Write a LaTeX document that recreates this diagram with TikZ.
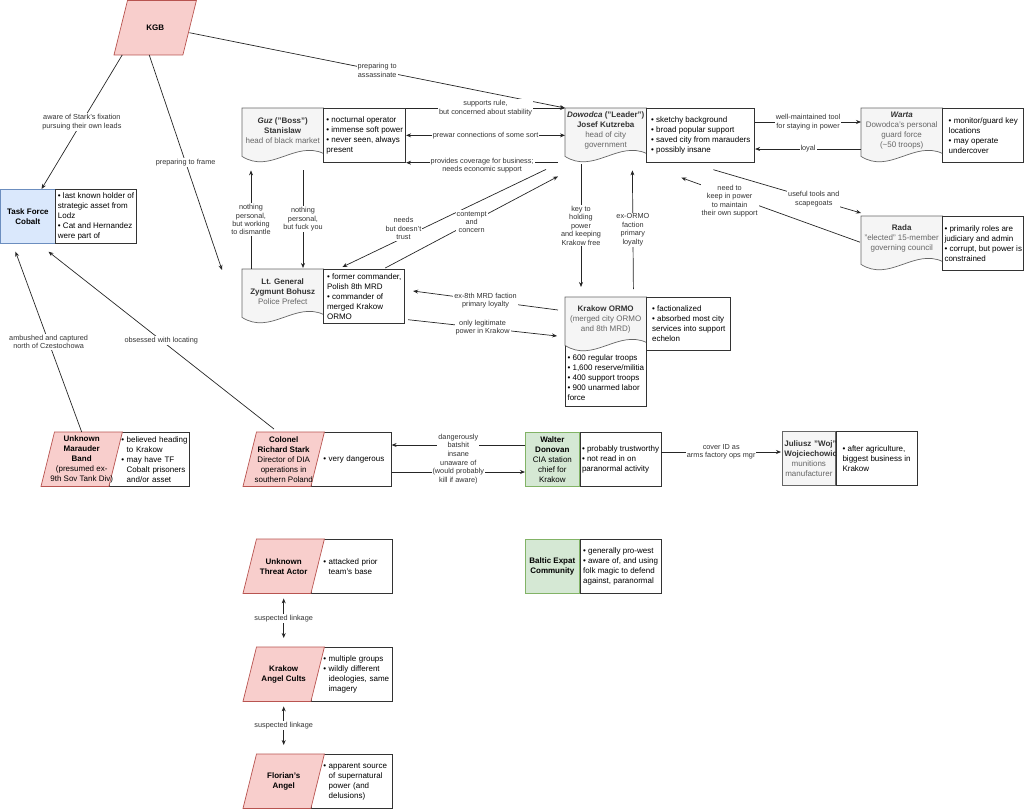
\documentclass[tikz,border=0pt]{standalone}
\usepackage{fontspec}
\setmainfont{Liberation Sans}
\usetikzlibrary{arrows.meta,calc,backgrounds}
\definecolor{redfill}{RGB}{248,206,204}
\definecolor{redline}{RGB}{184,84,80}
\definecolor{bluefill}{RGB}{218,232,252}
\definecolor{blueline}{RGB}{108,142,191}
\definecolor{greenfill}{RGB}{213,232,212}
\definecolor{greenline}{RGB}{130,179,102}
\definecolor{greyfill}{RGB}{245,245,245}
\definecolor{greyline}{RGB}{102,102,102}
\definecolor{darktext}{RGB}{51,51,51}
\newcommand\grey[1]{\textcolor{greyline}{#1}}
\newcommand\bind{\hphantom{• }}
\newcommand\padleft{\leftskip=11pt\relax}
\newcommand\docshape[1]{%
  \filldraw[docfill] (#1.north west) -- (#1.north east) -- ($(#1.south east)+(0,1)$)
    .. controls ($(#1.south west)!0.65!(#1.south east)+(0,-12)$) and ($(#1.south west)!0.35!(#1.south east)+(0,22)$) .. ($(#1.south west)+(0,4)$) -- cycle;}
\newcommand\parashape[1]{%
  \filldraw[parafill] ($(#1.north west)+(13.5,0)$) -- (#1.north east) -- ($(#1.south east)+(-13.5,0)$) -- (#1.south west) -- cycle;}
\tikzset{
  txt/.style={font=\fontsize{8}{10}\selectfont},
  lbl/.style={font=\fontsize{7.3}{8.4}\selectfont, text=darktext, fill=white, inner sep=1pt, align=center},
  link/.style={draw=black!85, line width=0.7pt, -{Stealth[length=5pt,width=4pt]}},
  twoway/.style={link, {Stealth[length=5pt,width=4pt]}-{Stealth[length=5pt,width=4pt]}},
  docnode/.style={txt, text=darktext, anchor=north west, minimum width=81pt, minimum height=44pt, inner sep=1pt, align=center},
  docfill/.style={fill=greyfill, draw=greyline, line width=0.7pt},
  parafill/.style={fill=redfill, draw=redline, line width=0.7pt},
  boxline/.style={draw=black!80, fill=white, line width=0.7pt},
  infobox/.style={txt, boxline, anchor=north west, align=left, inner sep=1pt, minimum width=#1, minimum height=54pt},
  parainfo/.style 2 args={infobox=#1, text width=#2, draw=none, fill=none},
  plainbox/.style={txt, anchor=north west, line width=0.7pt, inner sep=1pt, align=center, minimum width=54pt, minimum height=54pt},
  parabox/.style={txt, anchor=north west, inner sep=1pt, align=center, minimum width=81pt, minimum height=54pt},
}

\begin{document}
\begin{tikzpicture}[x=1pt, y=-1pt]
    \useasboundingbox (0,0) rectangle (1024,809);

    % KGB and Task Force Cobalt
    \node[parabox, minimum width=82pt] (kgb) at (114,0.5) {\textbf{KGB}};
    \node[plainbox, fill=bluefill, draw=blueline] (tfc) at (0.5,189) {\textbf{Task Force}\\\textbf{Cobalt}};
    \node[infobox=81pt] (tfcinfo) at (tfc.north east) {• last known holder of\\strategic asset from\\Lodz\\• Cat and Hernandez\\were part of};

    % City leadership
    \node[docnode] (guz) at (242,108) {\textbf{\textit{Guz} ("Boss")}\\\textbf{Stanislaw}\\\grey{head of black market}};
    \node[infobox=82pt] (guzinfo) at (guz.north east) {• nocturnal operator\\• immense soft power\\• never seen, always\\present};
    \node[docnode] (dowodca) at (565,108) {\textbf{\textit{Dowodca} ("Leader")}\\\textbf{Josef Kutzreba}\\\grey{head of city}\\\grey{government}};
    \node[infobox=108pt] (dwinfo) at (dowodca.north east) {• sketchy background\\• broad popular support\\• saved city from marauders\\• possibly insane};
    \node[docnode] (warta) at (861,108) {\textbf{\textit{Warta}}\\\grey{Dowodca's personal}\\\grey{guard force}\\\grey{(\textasciitilde50 troops)}};
    \node[infobox=81pt] (wartainfo) at (warta.north east) {• monitor/guard key\\locations\\• may operate\\undercover};
    \node[docnode] (rada) at (861,216) {\textbf{Rada}\\\grey{"elected" 15-member}\\\grey{governing council}};
    \node[infobox=81pt] (radainfo) at (rada.north east) {• primarily roles are\\judiciary and admin\\• corrupt, but power is\\constrained};
    \node[docnode] (bohusz) at (242,269) {\textbf{Lt. General}\\\textbf{Zygmunt Bohusz}\\\grey{Police Prefect}};
    \node[infobox=81pt] (bhinfo) at (bohusz.north east) {• former commander,\\Polish 8th MRD\\• commander of\\merged Krakow\\ORMO};
    \node[docnode] (ormo) at (565,297) {\textbf{Krakow ORMO}\\\grey{(merged city ORMO}\\\grey{and 8th MRD)}};
    \node[infobox=84pt, minimum height=53pt] (ormoinfo) at (ormo.north east) {• factionalized\\• absorbed most city\\services into support\\echelon};
    \node[infobox=81pt, draw=none, fill=none, minimum height=56pt] (ormolist) at ($(ormo.south west)+(0,8)$) {• 600 regular troops\\• 1,600 reserve/militia\\• 400 support troops\\• 900 unarmed labor\\force};

    % Middle row
    \node[parabox] (marauder) at (41,432) {\textbf{Unknown}\\\textbf{Marauder}\\\textbf{Band}\\(presumed ex-\\9th Sov Tank Div)};
    \node[parainfo={80pt}{78pt}] (marinfo) at ($(marauder.north east)+(-13.5,0)$) {\padleft • believed heading\\\bind to Krakow\\• may have TF\\\bind Cobalt prisoners\\\bind and/or asset\par};
    \node[parabox] (stark) at (243,432) {\textbf{Colonel}\\\textbf{Richard Stark}\\Director of DIA\\operations in\\southern Poland};
    \node[parainfo={80pt}{78pt}] (stinfo) at ($(stark.north east)+(-13.5,0)$) {\padleft • very dangerous\par};
    \node[plainbox, fill=greenfill, draw=greenline] (donovan) at (525,432) {\textbf{Walter}\\\textbf{Donovan}\\CIA station\\chief for\\Krakow};
    \node[infobox=81pt] (doninfo) at (donovan.north east) {• probably trustworthy\\• not read in on\\paranormal activity};
    \node[plainbox, fill=greyfill, draw=greyline, text=darktext, text width=49pt, minimum width=53pt] (juliusz) at (782,431) {\mbox{\textbf{Juliusz "Woj"}}\\\mbox{\textbf{Wojciechowicz}}\\\grey{munitions}\\\grey{manufacturer}};
    \node[infobox=81pt] (julinfo) at (juliusz.north east) {• after agriculture,\\biggest business in\\Krakow};

    % Paranormal column
    \node[parabox] (threat) at (243,539) {\textbf{Unknown}\\\textbf{Threat Actor}};
    \node[parainfo={81pt}{79pt}] (thinfo) at ($(threat.north east)+(-13.5,0)$) {\padleft • attacked prior\\\bind team's base\par};
    \node[parabox] (cults) at (243,647) {\textbf{Krakow}\\\textbf{Angel Cults}};
    \node[parainfo={81pt}{79pt}] (cuinfo) at ($(cults.north east)+(-13.5,0)$) {\padleft • multiple groups\\• wildly different\\\bind ideologies, same\\\bind imagery\par};
    \node[parabox] (florian) at (243,754) {\textbf{Florian's}\\\textbf{Angel}};
    \node[parainfo={81pt}{79pt}] (flinfo) at ($(florian.north east)+(-13.5,0)$) {\padleft • apparent source\\\bind of supernatural\\\bind power (and\\\bind delusions)\par};
    \node[plainbox, fill=greenfill, draw=greenline] (baltic) at (525,539) {\textbf{Baltic Expat}\\\textbf{Community}};
    \node[infobox=81pt] (balinfo) at (baltic.north east) {• generally pro-west\\• aware of, and using\\folk magic to defend\\against, paranormal};

    % Shapes behind the text
    \begin{scope}[on background layer]
        \filldraw[boxline] (ormo.north west) rectangle (ormolist.south east);
        \foreach \n in {guz,dowodca,warta,rada,bohusz,ormo} {\docshape{\n}}
        \foreach \p/\i in {marauder/marinfo,stark/stinfo,threat/thinfo,cults/cuinfo,florian/flinfo} {
            \filldraw[boxline] (\i.north west) rectangle (\i.south east);
            \parashape{\p}
        }
        \parashape{kgb}
    \end{scope}

    % KGB links
    \coordinate (framept) at ($(bohusz.north west)+(-20,1)$);
    \draw[link] ($(kgb.east)+(-7,5)$) -- node[lbl] {preparing to\\assassinate} (dowodca.north west);
    \draw[link] ($(kgb.south west)!0.2!(kgb.south)$) -- node[lbl] {aware of Stark's fixation\\pursuing their own leads} ($(tfc.north)!0.5!(tfc.north east)$);
    \draw[link] ($(kgb.south)+(-6,0)$) -- node[lbl] {preparing to frame} (framept);

    % Guz and Dowodca
    \draw[link] (guzinfo.north east) -- node[lbl] {supports rule,\\but concerned about stability} (dowodca.north west);
    \draw[twoway] (guzinfo.east) -- node[lbl] {prewar connections of some sort} (dowodca.west |- guzinfo.east);
    \draw[link] ($(dowodca.west |- guzinfo.south)+(-7,0)$) -- node[lbl, yshift=-3pt] {provides coverage for business;\\needs economic support} (guzinfo.south east);

    % Bohusz
    \draw[link] ($(bohusz.north west)+(9,0)$) -- node[lbl] {nothing\\personal,\\but working\\to dismantle} ($(guz.south west)+(9,18)$);
    \draw[link] ($(guz.south west)+(61,18)$) -- node[lbl] {nothing\\personal,\\but fuck you} ($(bohusz.north west)+(61,-1)$);
    \draw[link] ($(dowodca.south west)+(-19,17)$) -- node[lbl, pos=0.7, yshift=9pt] {needs\\but doesn't\\trust} ($(bhinfo.north west)+(19,-2)$);
    \draw[link] ($(bhinfo.north)+(21,-1)$) -- node[lbl] {contempt\\and\\concern} ($(dowodca.south west)+(-7,24)$);

    % ORMO
    \draw[link] ($(dowodca.south west)+(16,12)$) -- node[lbl] {key to\\holding\\power\\and keeping\\Krakow free} ($(ormo.north west)+(16,-10)$);
    \draw[link] ($(ormo.north east)+(-13,-8)$) -- node[lbl] {ex-ORMO\\faction\\primary\\loyalty} ($(dowodca.south east)+(-14,18)$);
    \draw[link] ($(ormo.north west)+(-7,13)$) -- node[lbl] {ex-8th MRD faction\\primary loyalty} ($(bhinfo.north east)+(8,22)$);
    \draw[link] ($(bhinfo.south east)+(3,-4)$) -- node[lbl] {only legitimate\\power in Krakow} ($(ormo.north west)+(-8,39)$);

    % Rada and Warta
    \draw[link] ($(rada.west)+(-1,4)$) -- node[lbl, pos=0.73, yshift=-6pt] {need to\\keep in power\\to maintain\\their own support} ($(dwinfo.south west)+(35,15)$);
    \draw[link] ($(dwinfo.south west)+(67,7)$) -- node[lbl, pos=0.68] {useful tools and\\scapegoats} ($(rada.north west)+(0,-3)$);
    \draw[link] ($(dwinfo.north east)+(0,14)$) -- node[lbl] {well-maintained tool\\for staying in power} ($(warta.north west)+(0,14)$);
    \draw[link] ($(warta.north west)+(0,41)$) -- node[lbl] {loyal} ($(dwinfo.north east)+(0,41)$);

    % Task Force Cobalt leads
    \draw[link] (marauder.north) -- node[lbl] {ambushed and captured\\north of Czestochowa} ($(tfc.south west)+(15,8)$);
    \draw[link] ($(stark.north west)+(31,-3)$) -- node[lbl] {obsessed with locating} ($(tfc.south west)+(48,8)$);

    % Donovan
    \draw[link] ($(donovan.north west)+(0,13)$) -- node[lbl] {dangerously\\batshit\\insane} ($(stinfo.north east)+(0,13)$);
    \draw[link] ($(stinfo.north east)+(0,40)$) -- node[lbl] {unaware of\\(would probably\\kill if aware)} ($(donovan.north west)+(0,40)$);
    \draw[link] ($(doninfo.north east)+(0,20)$) -- node[lbl] {cover ID as\\arms factory ops mgr} ($(juliusz.north west)+(-1,21)$);

    % Suspected linkage
    \draw[twoway] ($(threat.south)+(0,5)$) -- node[lbl] {suspected linkage} ($(cults.north)+(0,-9)$);
    \draw[twoway] ($(cults.south)+(0,5)$) -- node[lbl] {suspected linkage} ($(florian.north)+(0,-9)$);
\end{tikzpicture}
\end{document}
